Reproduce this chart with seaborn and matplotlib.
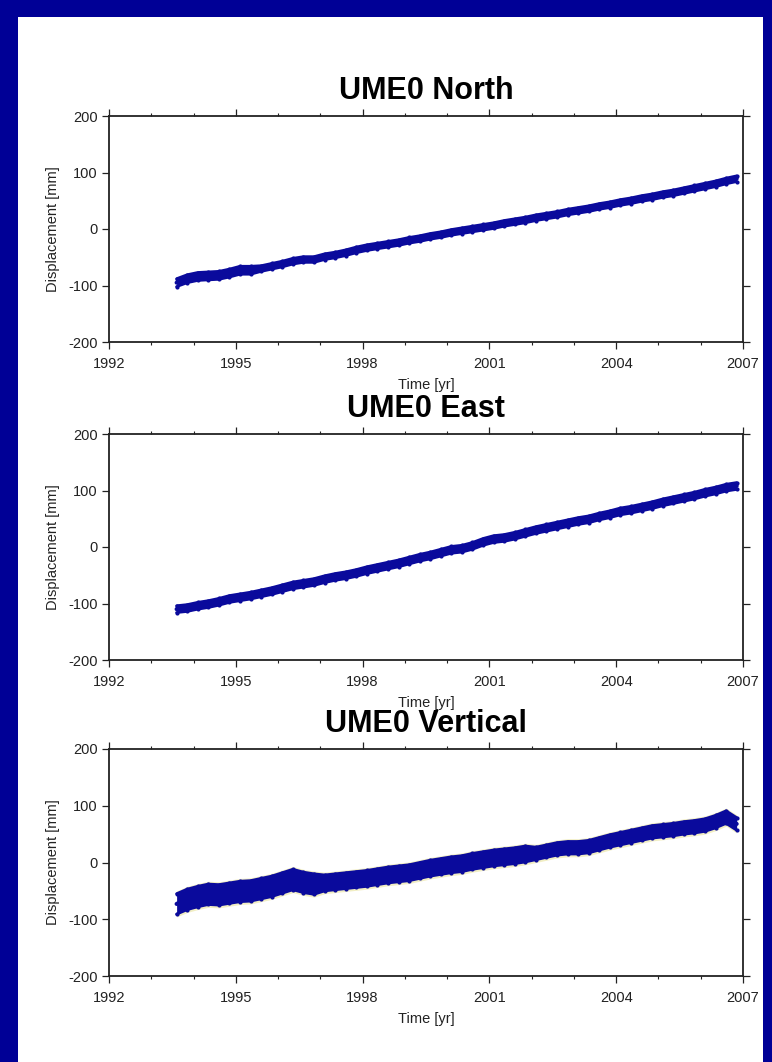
import numpy as np
import pandas as pd
import seaborn as sns
import matplotlib
matplotlib.use("Agg")
import matplotlib.pyplot as plt
from matplotlib.patches import Rectangle
from matplotlib.ticker import MultipleLocator, FixedLocator

# ---------------- data ----------------
years = [1993.60, 1993.85, 1994.10, 1994.35, 1994.60, 1994.85, 1995.10, 1995.35, 1995.60,
         1995.85, 1996.10, 1996.35, 1996.60, 1996.85, 1997.10, 1997.35, 1997.60, 1997.85,
         1998.10, 1998.35, 1998.60, 1998.85, 1999.10, 1999.35, 1999.60, 1999.85, 2000.10,
         2000.35, 2000.60, 2000.85, 2001.10, 2001.35, 2001.60, 2001.85, 2002.10, 2002.35,
         2002.60, 2002.85, 2003.10, 2003.35, 2003.60, 2003.85, 2004.10, 2004.35, 2004.60,
         2004.85, 2005.10, 2005.35, 2005.60, 2005.85, 2006.10, 2006.35, 2006.60, 2006.85]

north_mm = [-95, -88, -84, -83, -82, -78, -73, -73, -70, -66, -62, -57, -54, -54, -49, -46,
            -42, -37, -33, -30, -27, -24, -20, -17, -13, -10, -6, -3, 0, 3, 6, 10, 13, 16,
            20, 23, 26, 30, 33, 36, 40, 43, 47, 50, 54, 57, 61, 64, 68, 72, 76, 80, 85, 89]
north_spread = [7] * 8 + [5] * 46

east_mm = [-110, -108, -104, -101, -97, -92, -89, -86, -82, -78, -73, -68, -65, -62, -57,
           -53, -50, -46, -41, -37, -33, -29, -24, -19, -15, -10, -5, -3, 2, 9, 14, 16, 20,
           25, 30, 34, 38, 42, 46, 49, 54, 58, 63, 66, 70, 74, 79, 83, 87, 91, 96, 100, 105, 108]
east_spread = [6] * 54

vert_mm = [-73, -65, -60, -56, -57, -54, -51, -50, -46, -42, -36, -30, -35, -38, -36, -34,
           -32, -30, -28, -25, -22, -20, -18, -14, -10, -7, -4, -2, 2, 5, 8, 10, 12, 15, 16,
           20, 24, 26, 26, 28, 33, 38, 42, 46, 50, 54, 56, 58, 61, 63, 66, 72, 80, 68]
vert_spread = [18] * 14 + [14] * 20 + [11] * 20

titles = ["UME0 North", "UME0 East", "UME0 Vertical"]
x_major = [1992, 1995, 1998, 2001, 2004, 2007]
y_major = [-200, -100, 0, 100, 200]

# ---------------- style ----------------
sns.set_theme(style="white")
plt.rcParams["font.family"] = ["Liberation Sans", "DejaVu Sans"]

NAVY_BG = "#000096"
DOT = "#0a0a9c"
YELLOW = "#d9cf55"
FRAME = "#222222"

fig = plt.figure(figsize=(7.72, 10.62), dpi=100)
fig.patch.set_facecolor(NAVY_BG)
fig.add_artist(Rectangle((18 / 772, 0), (763 - 18) / 772, (1062 - 17) / 1062,
                         transform=fig.transFigure, facecolor="white", edgecolor="none", zorder=0))

W, H = 772, 1062
left, right = 109, 743
panels = [(116, 342), (434, 660), (749, 976)]
series = [(north_mm, north_spread), (east_mm, east_spread), (vert_mm, vert_spread)]

for i, ((top, bot), (vals, spr), title) in enumerate(zip(panels, series, titles)):
    ax = fig.add_axes([left / W, 1 - bot / H, (right - left) / W, (bot - top) / H])
    ax.set_facecolor("white")
    df = pd.DataFrame({"t": years, "v": vals, "s": spr})
    df["lo"] = df["v"] - df["s"]
    df["hi"] = df["v"] + df["s"]

    if i == 2:
        ax.fill_between(df["t"], df["lo"] - 5, df["hi"] + 5, color=YELLOW, alpha=0.35,
                        linewidth=0, zorder=1)
    ax.fill_between(df["t"], df["lo"], df["hi"], color=DOT, linewidth=0, zorder=2)
    sns.lineplot(data=df, x="t", y="v", ax=ax, color=DOT, linewidth=3, zorder=3)
    for col in ["lo", "hi"]:
        sns.lineplot(data=df, x="t", y=col, ax=ax, color=DOT, linewidth=2.0, zorder=3,
                     solid_capstyle="round", solid_joinstyle="round")
        sns.scatterplot(data=df, x="t", y=col, ax=ax, color=DOT, s=9, linewidth=0, zorder=3)

    ax.set_xlim(1992, 2007)
    ax.set_ylim(-200, 200)
    ax.xaxis.set_major_locator(FixedLocator(x_major))
    ax.xaxis.set_minor_locator(MultipleLocator(1))
    ax.yaxis.set_major_locator(FixedLocator(y_major))
    ax.set_xticklabels([str(x) for x in x_major])
    ax.set_yticklabels([str(y) for y in y_major])
    ax.tick_params(axis="both", which="major", direction="out", length=5, width=0.9,
                   color=FRAME, labelsize=10.5, labelcolor="#222222",
                   top=True, right=True, bottom=True, left=True)
    ax.tick_params(axis="x", which="major", pad=6)
    ax.tick_params(axis="y", which="major", pad=3)
    ax.tick_params(axis="x", which="minor", direction="out", length=2.5, width=0.8,
                   color=FRAME, top=True, bottom=True)
    for sp in ax.spines.values():
        sp.set_visible(True)
        sp.set_color(FRAME)
        sp.set_linewidth(1.3)
    ax.set_xlabel("Time [yr]", fontsize=10.5, color="#222222", labelpad=5)
    ax.set_ylabel("Displacement [mm]", fontsize=10.5, color="#222222", labelpad=6)
    ax.set_title(title, fontsize=22, fontweight="bold", color="black", pad=12)

fig.savefig("out.png", dpi=100, facecolor=fig.get_facecolor())
